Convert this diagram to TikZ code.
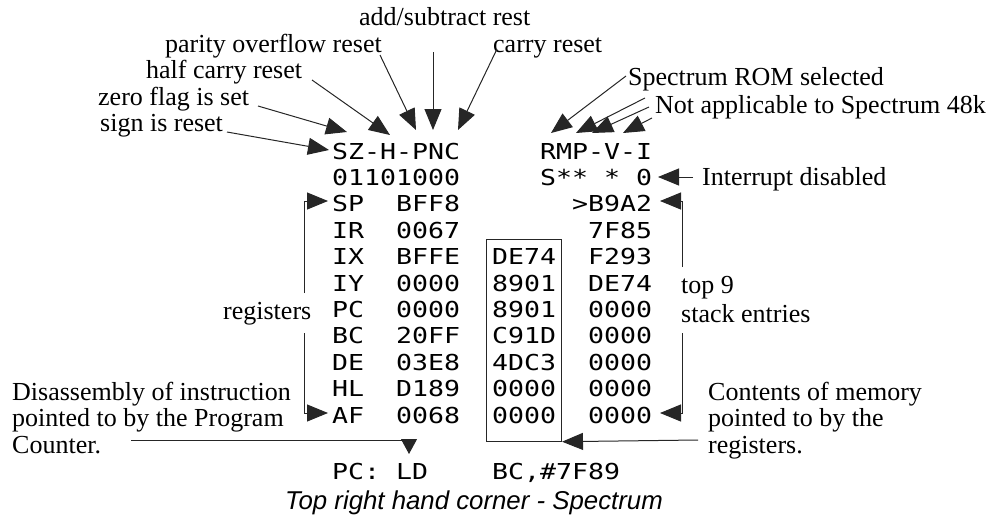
\documentclass[tikz,border=0pt]{standalone}
\usepackage{fontspec}
\usepackage{graphicx}
\setmainfont{Liberation Serif}
\newfontfamily\monofont{DejaVu Sans Mono}
\newfontfamily\capfont{Liberation Sans}
\usetikzlibrary{arrows.meta}
\tikzset{
  lbl/.style={anchor=base west, inner sep=0pt, font=\fontsize{26}{30}\selectfont},
  mono/.style={anchor=base west, inner sep=0pt},
  headtip/.tip={Triangle[length=21pt 0 0,width=17pt 0 0]},
  conn/.style={line width=1pt, draw=black!85, -headtip},
  shortconn/.style={line width=1pt, draw=black!85, -{Triangle[length=15pt 0 0,width=16pt 0 0]}},
}
\newcommand\mtx[1]{\scalebox{1.21}[1]{\monofont\fontsize{21.95}{24}\selectfont #1}}
\newcommand\mcell[4]{\node[mono] (#1) at ({332+16*#2},{159+26.4*#3}) {\mtx{#4}};}
\begin{document}
\begin{tikzpicture}[x=1pt,y=-1pt]
\useasboundingbox (0,0) rectangle (997,525);

% ---- monospace block ----
\mcell{flags}{0}{0}{SZ-H-PNC}
\mcell{rflags}{13}{0}{RMP-V-I}
\mcell{bits}{0}{1}{01101000}
\mcell{sst}{13}{1}{S**}
\mcell{vst}{17}{1}{*}
\mcell{ist}{19}{1}{0}
% registers
\mcell{rSP}{0}{2}{SP}  \mcell{vSP}{4}{2}{BFF8}
\mcell{rIR}{0}{3}{IR}  \mcell{vIR}{4}{3}{0067}
\mcell{rIX}{0}{4}{IX}  \mcell{vIX}{4}{4}{BFFE}
\mcell{rIY}{0}{5}{IY}  \mcell{vIY}{4}{5}{0000}
\mcell{rPC}{0}{6}{PC}  \mcell{vPC}{4}{6}{0000}
\mcell{rBC}{0}{7}{BC}  \mcell{vBC}{4}{7}{20FF}
\mcell{rDE}{0}{8}{DE}  \mcell{vDE}{4}{8}{03E8}
\mcell{rHL}{0}{9}{HL}  \mcell{vHL}{4}{9}{D189}
\mcell{rAF}{0}{10}{AF} \mcell{vAF}{4}{10}{0068}
% memory
\mcell{m1}{10}{4}{DE74}
\mcell{m2}{10}{5}{8901}
\mcell{m3}{10}{6}{8901}
\mcell{m4}{10}{7}{C91D}
\mcell{m5}{10}{8}{4DC3}
\mcell{m6}{10}{9}{0000}
\mcell{m7}{10}{10}{0000}
% stack
\mcell{s1}{15}{2}{>B9A2}
\mcell{s2}{16}{3}{7F85}
\mcell{s3}{16}{4}{F293}
\mcell{s4}{16}{5}{DE74}
\mcell{s5}{16}{6}{0000}
\mcell{s6}{16}{7}{0000}
\mcell{s7}{16}{8}{0000}
\mcell{s8}{16}{9}{0000}
\mcell{s9}{16}{10}{0000}
% disassembly line
\node[mono] (dpc) at (332,479) {\mtx{PC:}};
\node[mono] (dld) at (396,479) {\mtx{LD}};
\node[mono] (dop) at (492,479) {\mtx{BC,\#7F89}};

% memory box
\node[draw=black!85, line width=1pt, minimum width=75.3pt, minimum height=201.4pt,
      inner sep=0pt, anchor=north west] (membox) at (485.7,239.3) {};

% ---- labels ----
\node[lbl] (addsub) at (359,25)  {add/subtract rest};
\node[lbl] (parity) at (165,52)  {parity overflow reset};
\node[lbl] (carry)  at (493,52)  {carry reset};
\node[lbl] (half)   at (146,78)  {half carry reset};
\node[lbl] (zero)   at (98,105)  {zero flag is set};
\node[lbl] (sign)   at (100,131) {sign is reset};
\node[lbl] (rom)    at (628,85)  {Spectrum ROM selected};
\node[lbl] (na)     at (655,113) {Not applicable to Spectrum 48k};
\node[lbl] (intr)   at (702,185) {Interrupt disabled};
\node[lbl] (topnine) at (681,293) {top 9};
\node[lbl] (stackent) at (681,322) {stack entries};
\node[lbl] (regs)   at (223,319) {registers};
\node[lbl] (dis1)   at (12,400)  {Disassembly of instruction};
\node[lbl] (dis2)   at (12,426.5) {pointed to by the Program};
\node[lbl] (dis3)   at (12,453)  {Counter.};
\node[lbl] (con1)   at (708,400) {Contents of memory};
\node[lbl] (con2)   at (708,426.5) {pointed to by the};
\node[lbl] (con3)   at (708,453) {registers.};
\node[anchor=base, inner sep=0pt] (caption) at (474,509.5)
  {\capfont\itshape\fontsize{25.8}{30}\selectfont Top right hand corner - Spectrum};

% ---- connector end points ----
\coordinate (signS) at (227,132);   \coordinate (signT) at (329,150);
\coordinate (zeroS) at (258,106);   \coordinate (zeroT) at (347,132);
\coordinate (halfS) at (312,80);    \coordinate (halfT) at (390,135);
\coordinate (parS)  at (380,55);    \coordinate (parT)  at (416,130);
\coordinate (addS)  at (433,52);    \coordinate (addT)  at (433,130);
\coordinate (carS)  at (497,49);    \coordinate (carT)  at (458,130);
\coordinate (romS)  at (626,76);    \coordinate (romT)  at (551,133);
\coordinate (naSa)  at (645,98);    \coordinate (naTa)  at (576,133);
\coordinate (naSb)  at (649,107);   \coordinate (naTb)  at (592,133);
\coordinate (naSc)  at (652,118);   \coordinate (naTc)  at (623,133);
\coordinate (intS)  at (693,177);   \coordinate (intT)  at (658,177);
\coordinate (stA)   at (682,267);   \coordinate (stTa)  at (660,201);
\coordinate (stB)   at (682,333);   \coordinate (stTb)  at (660,413);
\coordinate (rgA)   at (304,293);   \coordinate (rgTa)  at (328,201);
\coordinate (rgB)   at (304,333);   \coordinate (rgTb)  at (328,413);
\coordinate (disS)  at (131,440);   \coordinate (disT)  at (409,454);
\coordinate (conS)  at (698,440);

% ---- connectors ----
\draw[conn] (signS) -- (signT);
\draw[conn] (zeroS) -- (zeroT);
\draw[conn] (halfS) -- (halfT);
\draw[conn] (parS) -- (parT);
\draw[conn] (addS) -- (addT);
\draw[conn] (carS) -- (carT);
\draw[conn] (romS) -- (romT);
\draw[conn] (naSa) -- (naTa);
\draw[conn] (naSb) -- (naTb);
\draw[conn] (naSc) -- (naTc);
\draw[conn] (intS) -- (intT);
\draw[conn] (stA) |- (stTa);
\draw[conn] (stB) |- (stTb);
\draw[conn] (rgA) |- (rgTa);
\draw[conn] (rgB) |- (rgTb);
\draw[shortconn] (disS) -| (disT);
\draw[conn] (conS) -- (membox.south east);
\end{tikzpicture}
\end{document}
